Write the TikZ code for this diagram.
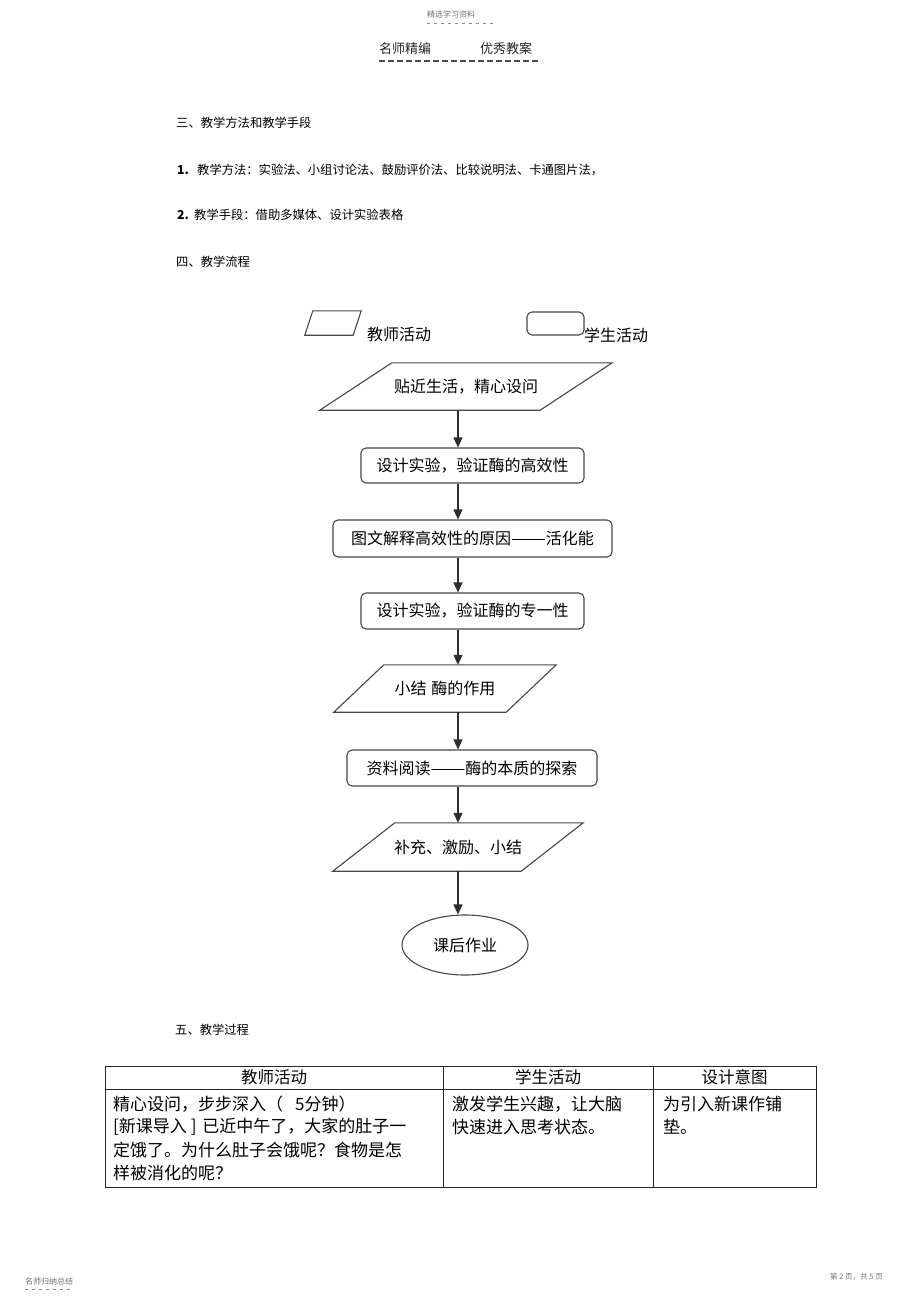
\documentclass[tikz,border=0pt]{standalone}
\usepackage{fontspec}
\setmainfont{Noto Sans CJK SC}
\usetikzlibrary{arrows.meta,calc,shapes.geometric}
\newcommand{\myfs}[1]{\fontsize{#1pt}{#1pt}\selectfont}
\newcommand{\longdash}{\scalebox{1.3}[1]{——}}
\newcommand{\drawpara}[2]{\draw[shp] ($(#1.north west)+(#2,0)$) -- (#1.north east) -- ($(#1.south east)-(#2,0)$) -- (#1.south west) -- cycle;}
\tikzset{
  shp/.style={draw=black!72, line width=1.1pt},
  rbox/.style={shp, rounded corners=5pt, inner sep=0pt, font=\myfs{16}},
  ptext/.style={inner sep=0pt, font=\myfs{16}},
  flow/.style={draw=black!82, line width=1.1pt, -{Triangle[length=10pt,width=9pt]}},
  sect/.style={anchor=west, inner sep=0pt, font=\myfs{12.3}},
  lbl/.style={anchor=west, inner sep=0pt, font=\myfs{16}},
  cell/.style={draw=black!85, line width=1pt, inner sep=0pt},
  ctext/.style={anchor=west, inner sep=0pt, font=\myfs{17}},
  small/.style={anchor=west, inner sep=0pt, text=black!55},
}
\begin{document}
\begin{tikzpicture}[x=1pt,y=-1pt]
\useasboundingbox (0,0) rectangle (920,1303);
\fill[white] (0,0) rectangle (920,1303);

% page header
\node[small, font=\myfs{8}] (hd) at (427,14) {精选学习资料};
\draw[black!45, line width=0.6pt, dash pattern=on 3pt off 4pt] (427,23) -- (493,23);
\node[anchor=west, inner sep=0pt, font=\myfs{13}, text=black!85] (hd1) at (379,49) {名师精编};
\node[anchor=west, inner sep=0pt, font=\myfs{13}, text=black!85] (hd2) at (480,49) {优秀教案};
\draw[black!70, line width=1.3pt, dash pattern=on 6pt off 3pt] (379,61) -- (540,61);

% sections
\node[sect] (s3) at (176,123) {三、教学方法和教学手段};
\node[sect] (n1) at (177,170) {\textbf{1.}};
\node[sect] (t1) at (197,170) {教学方法：实验法、小组讨论法、鼓励评价法、比较说明法、卡通图片法，};
\node[sect] (n2) at (177,215) {\textbf{2.}};
\node[sect] (t2) at (194,215) {教学手段：借助多媒体、设计实验表格};
\node[sect] (s4) at (176,262) {四、教学流程};

% legend
\node[ptext, minimum width=56pt, minimum height=24pt] (lp) at (333,323) {};
\drawpara{lp}{8}
\node[lbl] (lpt) at (367,334) {教师活动};
\node[rbox, minimum width=57pt, minimum height=23pt] (lr) at (555.5,323.5) {};
\node[lbl] (lrt) at (584,335) {学生活动};

% flow
\coordinate (ax) at (458,0);
\node[ptext, minimum width=292pt, minimum height=47pt] (p1) at (466,386.5) {贴近生活，精心设问};
\drawpara{p1}{72}
\node[rbox, minimum width=223pt, minimum height=35pt] (b2) at (472.5,465.5) {设计实验，验证酶的高效性};
\node[rbox, minimum width=279pt, minimum height=37pt] (b3) at (472.5,538.5) {图文解释高效性的原因\longdash 活化能};
\node[rbox, minimum width=223pt, minimum height=36pt] (b4) at (472.5,611) {设计实验，验证酶的专一性};
\node[ptext, minimum width=222pt, minimum height=47pt] (p5) at (445,688.5) {小结\hspace{5pt}酶的作用};
\drawpara{p5}{50}
\node[rbox, minimum width=250pt, minimum height=36pt] (b6) at (472,768) {资料阅读\longdash 酶的本质的探索};
\node[ptext, minimum width=250pt, minimum height=48pt] (p7) at (458,847) {补充、激励、小结};
\drawpara{p7}{62}
\node[ellipse, shp, inner sep=0pt, minimum width=126pt, minimum height=60pt, font=\myfs{16}] (e8) at (465,945) {课后作业};

\draw[flow] (p1.south -| ax) -- (b2.north -| ax);
\draw[flow] (b2.south -| ax) -- (b3.north -| ax);
\draw[flow] (b3.south -| ax) -- (b4.north -| ax);
\draw[flow] (b4.south -| ax) -- (p5.north -| ax);
\draw[flow] (p5.south -| ax) -- (b6.north -| ax);
\draw[flow] (b6.south -| ax) -- (p7.north -| ax);
\draw[flow] (p7.south -| ax) -- (e8.north -| ax);

% section five
\node[sect] (s5) at (175,1030) {五、教学过程};

% table
\node[cell, minimum width=338pt, minimum height=23pt, font=\myfs{16.5}] (h1) at (274,1077.5) {教师活动};
\node[cell, minimum width=210pt, minimum height=23pt, font=\myfs{16.5}] (h2) at (548,1077.5) {学生活动};
\node[cell, minimum width=163pt, minimum height=23pt, font=\myfs{16.5}] (h3) at (734.5,1077.5) {设计意图};
\node[cell, minimum width=338pt, minimum height=98pt] (c1) at (274,1138) {};
\node[cell, minimum width=210pt, minimum height=98pt] (c2) at (548,1138) {};
\node[cell, minimum width=163pt, minimum height=98pt] (c3) at (734.5,1138) {};

\node[ctext] (l1) at (113,1104) {精心设问，步步深入（\hspace{12pt}5分钟）};
\node[ctext] (l2) at (113,1127) {[新课导入 ]\hspace{6pt}已近中午了，大家的肚子一};
\node[ctext] (l3) at (113,1150) {定饿了。为什么肚子会饿呢？食物是怎};
\node[ctext] (l4) at (113,1173) {样被消化的呢？};
\node[ctext] (m1) at (452,1104) {激发学生兴趣，让大脑};
\node[ctext] (m2) at (452,1127) {快速进入思考状态。};
\node[ctext] (r1) at (663,1104) {为引入新课作铺};
\node[ctext] (r2) at (663,1127) {垫。};

% footer
\node[small, font=\myfs{8}] (ft1) at (25,1281) {名师归纳总结};
\draw[black!45, line width=0.6pt, dash pattern=on 3pt off 4pt] (25,1289) -- (73,1289);
\node[small, font=\myfs{7.5}] (ft2) at (830,1277) {第 2 页，共 5 页};
\end{tikzpicture}
\end{document}
